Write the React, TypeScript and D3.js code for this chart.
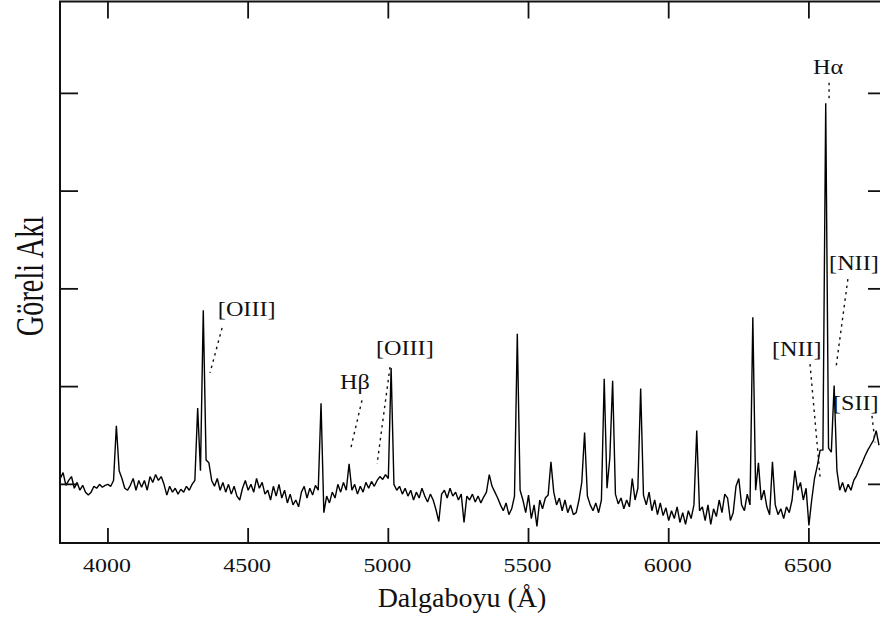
import React from 'react';
import * as d3 from 'd3';

// Spectrum sampled on a regular wavelength grid (Å), relative flux per sample.
const WAVE_START = 3830;
const WAVE_STEP = 10;
const FLUX = [
  1.06, 1.12, 0.99, 1.04, 1.08, 0.96, 1.02, 0.94, 0.99, 0.92, // 3830
  0.89, 0.92, 0.98, 0.96, 1.00, 0.97, 0.99, 1.00, 0.98, 1.04, // 3930
  1.60, 1.14, 1.06, 0.96, 0.94, 0.99, 1.06, 0.94, 1.04, 0.97, // 4030
  1.04, 0.94, 1.08, 1.02, 1.10, 1.04, 1.08, 1.00, 0.89, 0.98, // 4130
  0.92, 0.96, 0.90, 0.95, 0.92, 0.98, 0.94, 1.00, 1.04, 1.78, // 4230
  1.14, 2.78, 1.25, 1.22, 1.04, 0.98, 1.06, 0.94, 1.02, 0.92, // 4330
  1.00, 0.90, 0.98, 0.88, 0.84, 0.96, 1.04, 0.94, 1.00, 0.92, // 4430
  1.06, 0.96, 1.02, 0.90, 0.94, 0.84, 0.98, 0.88, 1.00, 0.86, // 4530
  0.94, 0.81, 0.90, 0.79, 0.84, 0.77, 0.92, 0.98, 0.86, 0.96, // 4630
  0.89, 0.99, 0.94, 1.83, 0.71, 0.88, 0.81, 0.92, 0.86, 1.00, // 4730
  0.92, 1.02, 0.94, 1.21, 0.94, 1.00, 0.90, 0.98, 0.92, 1.02, // 4830
  0.96, 1.03, 0.98, 1.04, 1.08, 1.05, 1.10, 1.06, 2.19, 1.00, // 4930
  0.94, 0.98, 0.90, 0.96, 0.88, 0.94, 0.84, 0.92, 0.86, 0.96, // 5030
  0.88, 0.82, 0.90, 0.84, 0.74, 0.62, 0.90, 0.94, 0.86, 0.96, // 5130
  0.88, 0.92, 0.84, 0.90, 0.61, 0.88, 0.84, 0.90, 0.82, 0.88, // 5230
  0.81, 0.87, 0.92, 1.10, 0.98, 0.92, 0.86, 0.79, 0.73, 0.81, // 5330
  0.69, 0.75, 0.88, 2.54, 0.94, 0.84, 0.71, 0.89, 0.65, 0.79, // 5430
  0.57, 0.84, 0.75, 0.86, 0.89, 1.23, 0.92, 0.79, 0.86, 0.73, // 5530
  0.84, 0.71, 0.79, 0.69, 0.71, 0.84, 1.02, 1.53, 0.88, 0.79, // 5630
  0.73, 0.81, 0.71, 0.84, 2.08, 0.96, 1.27, 2.06, 0.90, 0.80, // 5730
  0.86, 0.75, 0.84, 0.77, 1.06, 0.84, 0.96, 1.98, 0.89, 0.79, // 5830
  0.92, 0.73, 0.84, 0.69, 0.81, 0.68, 0.76, 0.63, 0.73, 0.65, // 5930
  0.77, 0.61, 0.71, 0.59, 0.73, 0.65, 0.79, 1.55, 0.73, 0.77, // 6030
  0.63, 0.79, 0.59, 0.75, 0.67, 0.84, 0.71, 0.90, 0.86, 0.63, // 6130
  0.71, 0.98, 1.06, 0.79, 0.73, 0.90, 0.79, 2.71, 0.94, 1.22, // 6230
  0.84, 0.94, 0.77, 0.69, 1.23, 0.79, 0.69, 0.75, 0.65, 0.77, // 6330
  0.71, 0.84, 1.14, 0.94, 1.02, 0.84, 0.96, 0.58, 0.84, 1.06, // 6430
  1.19, 1.35, 1.35, 4.90, 1.37, 1.33, 2.01, 1.14, 0.94, 1.02, // 6530
  0.92, 1.00, 0.94, 1.04, 1.09, 1.16, 1.22, 1.29, 1.35, 1.40, // 6630
  1.45, 1.55, 1.40, // 6730
];

const X_TICKS = [4000, 4500, 5000, 5500, 6000, 6500];
const Y_TICKS = [1, 2, 3, 4, 5];

// Line identifications: label anchor (wavelength, flux) and a dotted pointer.
const LINE_LABELS = [
  { text: '[OIII]', wave: 4392, flux: 2.72, from: [4407, 2.6], to: [4364, 2.14] },
  { text: 'Hβ', wave: 4828, flux: 1.98, from: [4906, 1.86], to: [4867, 1.38] },
  { text: '[OIII]', wave: 4956, flux: 2.32, from: [5006, 2.2], to: [4960, 1.21] },
  { text: 'Hα', wave: 6515, flux: 5.2, from: [6572, 5.11], to: [6572, 4.94] },
  { text: '[NII]', wave: 6368, flux: 2.31, from: [6504, 2.23], to: [6540, 1.07] },
  { text: '[NII]', wave: 6572, flux: 3.19, from: [6639, 3.1], to: [6597, 2.2] },
  { text: '[SII]', wave: 6586, flux: 1.76, from: [6725, 1.7], to: [6736, 1.43] },
];

const X_TITLE = 'Dalgaboyu (Å)';
const Y_TITLE = 'Göreli Akı';

export default function App() {
  const W = 880;
  const H = 622;
  const x = d3.scaleLinear().domain([3829, 6775]).range([60, 886]);
  const y = d3.scaleLinear().domain([0.4, 5.94]).range([543, 1.5]);
  const [xL, xR] = x.range();
  const [yB, yT] = y.range();

  const points: [number, number][] = FLUX.map((f, i) => [WAVE_START + i * WAVE_STEP, f]);
  const line = d3
    .line<[number, number]>()
    .x((d) => x(d[0]))
    .y((d) => y(d[1]));

  const tickLen = 17;
  const font = "'Liberation Serif', 'Times New Roman', Times, serif";

  return (
    <svg
      width={W}
      height={H}
      viewBox={`0 0 ${W} ${H}`}
      style={{ position: 'absolute', left: 0, top: 0, background: '#fff' }}
      fontFamily={font}
    >
      <rect x={0} y={0} width={W} height={H} fill="#fff" />
      <defs>
        <clipPath id="plot-area">
          <rect x={xL} y={yT} width={xR - xL} height={yB - yT} />
        </clipPath>
      </defs>

      {/* spectrum */}
      <path
        d={line(points) || ''}
        fill="none"
        stroke="#000"
        strokeWidth={1.4}
        strokeLinejoin="bevel"
        clipPath="url(#plot-area)"
      />

      {/* frame */}
      <rect x={xL} y={yT} width={xR - xL} height={yB - yT} fill="none" stroke="#111" strokeWidth={2} />

      {/* x ticks, bottom and top */}
      {X_TICKS.map((t) => (
        <g key={`xt${t}`} stroke="#111" strokeWidth={1.8}>
          <line x1={x(t)} x2={x(t)} y1={yB} y2={yB - tickLen + 2} />
          <line x1={x(t)} x2={x(t)} y1={yT} y2={yT + tickLen} />
        </g>
      ))}
      {/* y ticks, left and right */}
      {Y_TICKS.map((t) => (
        <g key={`yt${t}`} stroke="#111" strokeWidth={1.8}>
          <line x1={xL} x2={xL + tickLen + 1} y1={y(t)} y2={y(t)} />
          <line x1={xR} x2={xR - tickLen - 1} y1={y(t)} y2={y(t)} />
        </g>
      ))}

      {/* x tick labels */}
      {X_TICKS.map((t) => (
        <text
          key={`xl${t}`}
          transform={`translate(${x(t) - 1},572) scale(1.33,1)`}
          textAnchor="middle"
          fontSize={18}
          fill="#111"
        >
          {t}
        </text>
      ))}

      {/* axis titles */}
      <text x={462} y={607} textAnchor="middle" fontSize={28} fill="#111">
        {X_TITLE}
      </text>
      <text
        transform="translate(43,276) rotate(-90) scale(1.09,1.5)"
        textAnchor="middle"
        fontSize={26}
        fill="#111"
      >
        {Y_TITLE}
      </text>

      {/* line identifications */}
      {LINE_LABELS.map((d, i) => (
        <g key={`ll${i}`}>
          <line
            x1={x(d.from[0])}
            y1={y(d.from[1])}
            x2={x(d.to[0])}
            y2={y(d.to[1])}
            stroke="#111"
            strokeWidth={1.4}
            strokeDasharray="2.5,4"
          />
          <text
            transform={`translate(${x(d.wave)},${y(d.flux)}) scale(1.1,1)`}
            fontSize={22}
            fill="#111"
          >
            {d.text}
          </text>
        </g>
      ))}
    </svg>
  );
}
